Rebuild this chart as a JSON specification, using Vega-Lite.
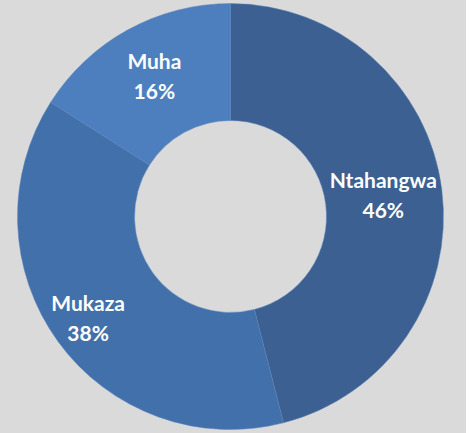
{
  "$schema": "https://vega.github.io/schema/vega-lite/v6.json",
  "width": 466,
  "height": 433,
  "autosize": {"type": "fit", "contains": "padding"},
  "padding": {"left": 0, "top": 0, "bottom": 0, "right": 5},
  "background": "#dadada",
  "config": {"view": {"stroke": null}, "text": {"font": "Lato", "fontWeight": "bold", "fontSize": 21, "fill": "white"}},
  "data": {"values": [
    {"region": "Ntahangwa", "share": 0.46},
    {"region": "Mukaza", "share": 0.38},
    {"region": "Muha", "share": 0.16}
  ]},
  "encoding": {
    "theta": {"field": "share", "type": "quantitative", "stack": true},
    "order": {"field": "region", "sort": "descending"}
  },
  "layer": [
    {
      "mark": {"type": "arc", "outerRadius": 213, "innerRadius": 96, "stroke": "#5b83b8", "strokeWidth": 0.5},
      "encoding": {
        "color": {
          "field": "region", "type": "nominal",
          "scale": {"domain": ["Ntahangwa", "Mukaza", "Muha"], "range": ["#3b6091", "#4270aa", "#4d7fbe"]},
          "legend": null
        }
      }
    },
    {
      "mark": {"type": "text", "radius": 154, "dy": -15},
      "encoding": {"text": {"condition": {"test": "datum.region === 'Ntahangwa'", "field": "region"}, "value": ""}}
    },
    {
      "mark": {"type": "text", "radius": 154, "dy": 15},
      "encoding": {"text": {"condition": {"test": "datum.region === 'Ntahangwa'", "field": "share", "type": "quantitative", "format": ".0%"}, "value": ""}}
    },
    {
      "mark": {"type": "text", "radius": 176, "dy": -15},
      "encoding": {"text": {"condition": {"test": "datum.region === 'Mukaza'", "field": "region"}, "value": ""}}
    },
    {
      "mark": {"type": "text", "radius": 176, "dy": 15},
      "encoding": {"text": {"condition": {"test": "datum.region === 'Mukaza'", "field": "share", "type": "quantitative", "format": ".0%"}, "value": ""}}
    },
    {
      "mark": {"type": "text", "radius": 158, "dy": -15},
      "encoding": {"text": {"condition": {"test": "datum.region === 'Muha'", "field": "region"}, "value": ""}}
    },
    {
      "mark": {"type": "text", "radius": 158, "dy": 15},
      "encoding": {"text": {"condition": {"test": "datum.region === 'Muha'", "field": "share", "type": "quantitative", "format": ".0%"}, "value": ""}}
    }
  ]
}
